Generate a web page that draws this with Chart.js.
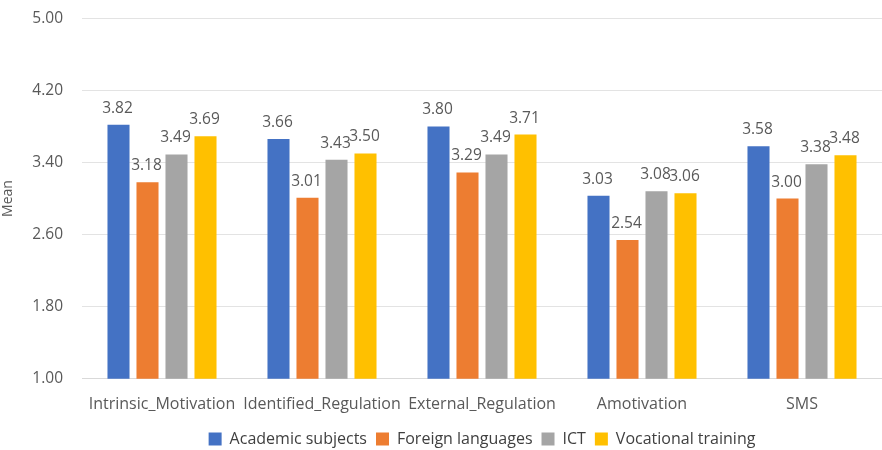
<!DOCTYPE html>
<html>
<head>
<meta charset="utf-8">
<script src="https://cdn.jsdelivr.net/npm/chart.js@4/dist/chart.umd.min.js"></script>
<style>
  html, body { margin: 0; padding: 0; background: #ffffff; overflow: hidden; }
  #wrap { width: 882px; height: 469px; position: absolute; left: 0; top: -10px; }
</style>
</head>
<body>
<div id="wrap"><canvas id="chart"></canvas></div>
<script>
// Motivation subscale means by programme type
const categories = ['Intrinsic_Motivation', 'Identified_Regulation', 'External_Regulation', 'Amotivation', 'SMS'];
const academicSubjects  = [3.82, 3.66, 3.80, 3.03, 3.58];
const foreignLanguages  = [3.18, 3.01, 3.29, 2.54, 3.00];
const ict               = [3.49, 3.43, 3.49, 3.08, 3.38];
const vocationalTraining = [3.69, 3.50, 3.71, 3.06, 3.48];
const seriesNames = ['Academic subjects', 'Foreign languages', 'ICT', 'Vocational training'];
const seriesColors = ['#4472C4', '#ED7D31', '#A5A5A5', '#FFC000'];
const yTicks = [1.00, 1.80, 2.60, 3.40, 4.20, 5.00];

const FONT = '"Open Sans", Lato, sans-serif';

// Value labels printed above each bar
const barValueLabels = {
  id: 'barValueLabels',
  afterDatasetsDraw(chart) {
    const ctx = chart.ctx;
    ctx.save();
    ctx.font = '15.5px ' + FONT;
    ctx.fillStyle = '#595959';
    ctx.textAlign = 'center';
    ctx.textBaseline = 'alphabetic';
    chart.data.datasets.forEach((ds, i) => {
      const meta = chart.getDatasetMeta(i);
      meta.data.forEach((bar, j) => {
        ctx.fillText(ds.data[j].toFixed(2), bar.x - 1, bar.y - 12);
      });
    });
    ctx.restore();
  }
};

// Center the legend under the plot area rather than the whole canvas
const centerLegendOnPlot = {
  id: 'centerLegendOnPlot',
  afterLayout(chart) {
    const lg = chart.legend;
    if (!lg) return;
    const shift = (chart.chartArea.left + chart.chartArea.right) / 2 - (lg.left + lg.right) / 2;
    lg.left += shift;
    lg.right += shift;
  }
};

const seriesData = [academicSubjects, foreignLanguages, ict, vocationalTraining];

new Chart(document.getElementById('chart'), {
  type: 'bar',
  data: {
    labels: categories,
    datasets: seriesData.map((vals, i) => ({
      label: seriesNames[i],
      data: vals,
      backgroundColor: seriesColors[i],
      borderWidth: 0,
      categoryPercentage: 0.725,
      barPercentage: 0.76
    }))
  },
  options: {
    responsive: true,
    maintainAspectRatio: false,
    animation: false,
    layout: { padding: { top: 0, right: 0, bottom: 2, left: 0 } },
    plugins: {
      legend: {
        position: 'bottom',
        labels: {
          font: { family: FONT, size: 16 },
          color: '#404040',
          boxWidth: 13,
          boxHeight: 13,
          padding: 9
        }
      },
      tooltip: { enabled: false }
    },
    scales: {
      x: {
        grid: { display: false },
        border: { color: '#d9d9d9' },
        ticks: {
          font: { family: FONT, size: 16 },
          color: '#595959',
          padding: 8,
          maxRotation: 0,
          autoSkip: false
        }
      },
      y: {
        min: 1,
        max: 5,
        afterBuildTicks(scale) {
          scale.ticks = yTicks.map(v => ({ value: v }));
        },
        afterFit(scale) { scale.width = 82; },
        grid: { color: '#e3e3e3', drawTicks: false },
        border: { display: false },
        ticks: {
          font: { family: FONT, size: 15.5 },
          color: '#595959',
          padding: 19,
          callback: v => Number(v).toFixed(2)
        },
        title: {
          display: true,
          text: 'Mean',
          font: { family: FONT, size: 14 },
          color: '#595959',
          padding: { top: 0, bottom: 0 }
        }
      }
    }
  },
  plugins: [barValueLabels, centerLegendOnPlot]
});
</script>
</body>
</html>
